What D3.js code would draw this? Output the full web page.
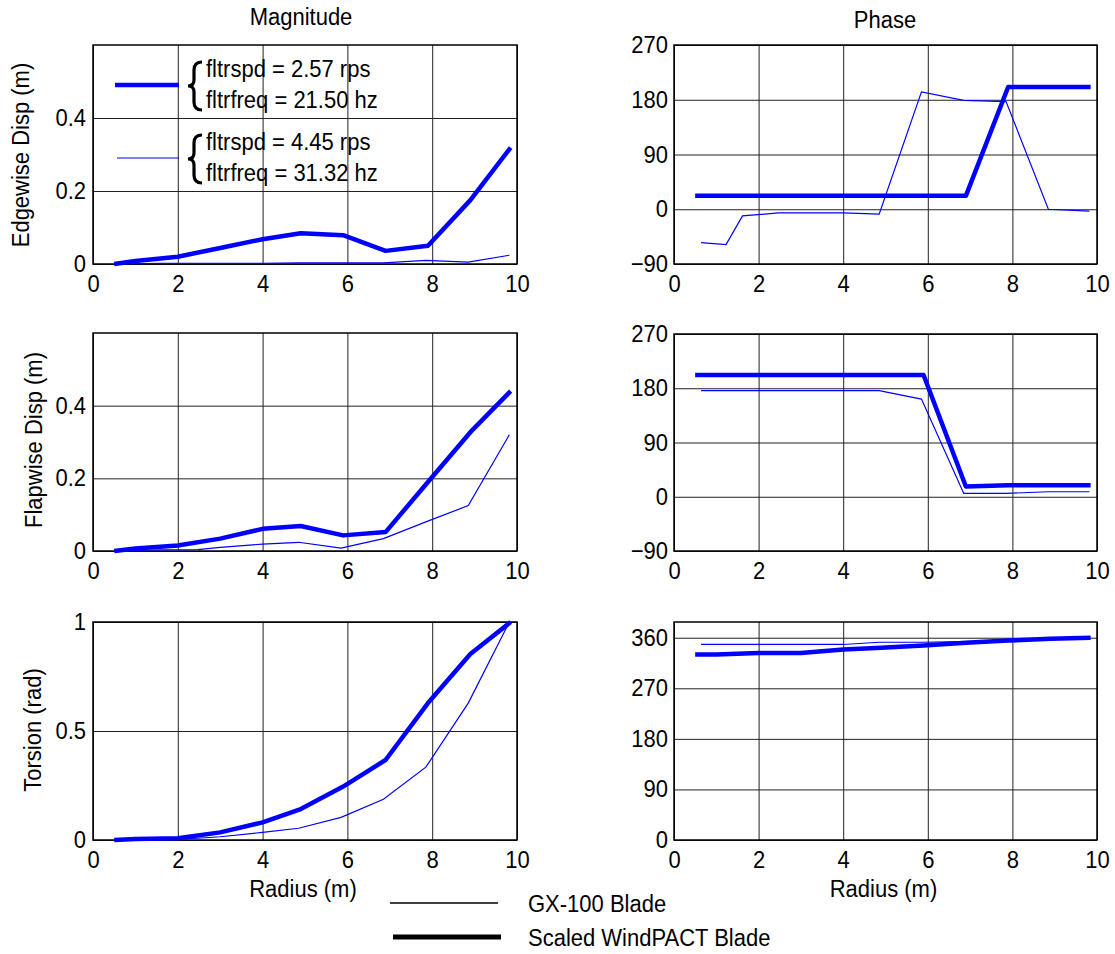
<!DOCTYPE html>
<html>
<head>
<meta charset="utf-8">
<script src="https://cdn.jsdelivr.net/npm/d3@7"></script>
<style>
  body { margin: 0; background: #fff; }
  svg { font-family: "Liberation Sans", Arial, sans-serif; }
  .tick line { stroke: #222; stroke-width: 1; }
  .domain { display: none; }
  .tick text { font-size: 22px; fill: #000; }
</style>
</head>
<body>
<script>
var width = 1115;
var height = 954;
var stretch = 1.09; // text in the original is a bit taller than it is wide

// radial stations (m)
var thickR = [0.5, 1.0, 2.0, 3.0, 4.0, 4.9, 5.9, 6.9, 7.9, 8.9, 9.85];
var thinR  = [0.64, 1.23, 1.62, 2.47, 3.0, 4.0, 4.85, 5.85, 6.85, 7.85, 8.85, 9.82];

// scaled WindPACT blade (thick) and GX-100 blade (thin)
var edgeMagThick   = [0, 0.008, 0.02, 0.044, 0.068, 0.084, 0.079, 0.036, 0.05, 0.175, 0.319];
var edgeMagThin    = [0.001, 0.001, 0.002, 0.002, 0.002, 0.002, 0.003, 0.003, 0.003, 0.01, 0.005, 0.024];
var edgePhaseThick = [22, 22, 22, 22, 22, 22, 22, 22, 201, 201, 201];
var edgePhaseThin  = [-55, -58, -11, -6, -6, -6, -8, 193, 179, 177, 0, -3];

var flapMagThick   = [0, 0.007, 0.015, 0.034, 0.061, 0.069, 0.043, 0.052, 0.19, 0.327, 0.44];
var flapMagThin    = [0, 0.002, 0.003, 0.004, 0.01, 0.019, 0.024, 0.008, 0.034, 0.08, 0.125, 0.32];
var flapPhaseThick = [202, 202, 202, 202, 202, 202, 202, 17, 19, 19, 19];
var flapPhaseThin  = [176, 176, 176, 176, 176, 176, 176, 162, 5.6, 5.6, 8.3, 8.3];

var torMagThick    = [0, 0.005, 0.008, 0.035, 0.081, 0.142, 0.245, 0.367, 0.628, 0.853, 1.0];
var torMagThin     = [0, 0.002, 0.003, 0.008, 0.015, 0.035, 0.054, 0.104, 0.187, 0.334, 0.628, 1.0];
var torPhaseThick  = [330, 330, 333, 333, 339, 342, 346, 351, 355, 358, 360];
var torPhaseThin   = [348, 348, 348, 348, 348, 348, 352, 352, 353, 355, 357, 360];

// tick labels
var xTicks = [0, 2, 4, 6, 8, 10];
var dispTicks = [0, 0.2, 0.4];
var torTicks = [0, 0.5, 1];
var phaseTicks = [-90, 0, 90, 180, 270];
var torPhaseTicks = [0, 90, 180, 270, 360];

// legend texts
var legendTexts = [["fltrspd = 2.57 rps", "fltrfreq = 21.50 hz"],
                   ["fltrspd = 4.45 rps", "fltrfreq = 31.32 hz"]];
var bladeNames = ["GX-100 Blade", "Scaled WindPACT Blade"];

var panels = [
  {x0: 93, x1: 517, y0: 45, y1: 264, dom: [0, 0.6], ticks: dispTicks, thick: edgeMagThick, thin: edgeMagThin,
   ylabel: "Edgewise Disp (m)", lx: 29, ly: 155, pad: 7},
  {x0: 674, x1: 1097, y0: 45, y1: 264, dom: [-90, 270], ticks: phaseTicks, thick: edgePhaseThick, thin: edgePhaseThin, pad: 6},
  {x0: 93, x1: 517, y0: 333, y1: 551, dom: [0, 0.6], ticks: dispTicks, thick: flapMagThick, thin: flapMagThin,
   ylabel: "Flapwise Disp (m)", lx: 42, ly: 440, pad: 7},
  {x0: 674, x1: 1097, y0: 334, y1: 551, dom: [-90, 270], ticks: phaseTicks, thick: flapPhaseThick, thin: flapPhaseThin, pad: 6},
  {x0: 93, x1: 517, y0: 622, y1: 840, dom: [0, 1], ticks: torTicks, thick: torMagThick, thin: torMagThin,
   ylabel: "Torsion (rad)", lx: 41, ly: 730, pad: 7, xlabel: true},
  {x0: 674, x1: 1097, y0: 622, y1: 840, dom: [0, 388], ticks: torPhaseTicks, thick: torPhaseThick, thin: torPhaseThin, pad: 6, xlabel: true}
];

var svg = d3.select("body").append("svg")
    .attr("width", width)
    .attr("height", height);

// plain text placed at (x, y) with the vertical stretch
function label(x, y, str, anchor, rot) {
  return svg.append("text")
      .attr("transform", "translate(" + x + "," + y + ")" + (rot ? " rotate(" + rot + ")" : "") + " scale(1," + stretch + ")")
      .attr("text-anchor", anchor || "start")
      .style("font-size", "22px")
      .text(str);
}

panels.forEach(function(p) {
  var x = d3.scaleLinear().domain([0, 10]).range([p.x0, p.x1]);
  var y = d3.scaleLinear().domain(p.dom).range([p.y1, p.y0]);
  var w = p.x1 - p.x0, h = p.y1 - p.y0;

  // grid
  svg.append("g")
      .attr("transform", "translate(0," + p.y1 + ")")
      .call(d3.axisBottom(x).tickValues(xTicks).tickSize(-h).tickFormat(""));
  svg.append("g")
      .attr("transform", "translate(" + p.x0 + ",0)")
      .call(d3.axisLeft(y).tickValues(p.ticks).tickSize(-w).tickFormat(""));

  // tick labels
  svg.append("g")
      .attr("transform", "translate(0," + p.y1 + ")")
      .call(d3.axisBottom(x).tickValues(xTicks).tickSize(0).tickPadding(10.5).tickFormat(d3.format("")))
    .selectAll("text")
      .attr("transform", "scale(1," + stretch + ")");
  svg.append("g")
      .attr("transform", "translate(" + p.x0 + ",0)")
      .call(d3.axisLeft(y).tickValues(p.ticks).tickSize(0).tickPadding(p.pad).tickFormat(d3.format("")))
    .selectAll(".tick text")
      .attr("y", null)
      .attr("dy", null)
      .attr("transform", "translate(0,7.5) scale(1," + stretch + ")");

  svg.append("rect")
      .attr("x", p.x0).attr("y", p.y0)
      .attr("width", w).attr("height", h)
      .attr("fill", "none").attr("stroke", "#000").attr("stroke-width", 1.5);

  var line = d3.line()
      .x(function(d) { return x(d[0]); })
      .y(function(d) { return y(d[1]); });

  svg.append("path")
      .datum(d3.zip(thinR, p.thin))
      .attr("d", line)
      .attr("fill", "none").attr("stroke", "#0000ff").attr("stroke-width", 1.2);
  svg.append("path")
      .datum(d3.zip(thickR, p.thick))
      .attr("d", line)
      .attr("fill", "none").attr("stroke", "#0000ff").attr("stroke-width", 4.5)
      .attr("stroke-linejoin", "round");

  if (p.ylabel) label(p.lx, p.ly, p.ylabel, "middle", -90);
  if (p.xlabel) label((p.x0 + p.x1) / 2 - 2, 897, "Radius (m)", "middle");
});

// column titles
label(301, 25, "Magnitude", "middle");
label(885, 28, "Phase", "middle");

// legend inside edgewise magnitude panel
var legY = [85, 158];
var legW = [4.5, 1.2];
legendTexts.forEach(function(t, i) {
  var top = i == 0 ? 62 : 135;
  svg.append("line")
      .attr("x1", i == 0 ? 115 : 117).attr("x2", 179)
      .attr("y1", legY[i]).attr("y2", legY[i])
      .attr("stroke", "#0000ff").attr("stroke-width", legW[i]);
  var m = top + 24, b = top + 48;
  svg.append("path")
      .attr("d", "M202," + top + " C196," + top + " 194," + (top + 3) + " 194," + (top + 8) +
                 " L194," + (m - 6) + " C194," + (m - 2) + " 192," + m + " 188," + m +
                 " C192," + m + " 194," + (m + 2) + " 194," + (m + 6) +
                 " L194," + (b - 8) + " C194," + (b - 3) + " 196," + b + " 202," + b)
      .attr("fill", "none").attr("stroke", "#000").attr("stroke-width", 3.2);
  label(206, top + 15, t[0]);
  label(206, top + 46, t[1]);
});

// blade legend at the bottom
var bladeY = [903, 937];
var bladeW = [1.3, 5];
bladeNames.forEach(function(n, i) {
  svg.append("line")
      .attr("x1", i == 0 ? 390 : 393).attr("x2", i == 0 ? 498 : 501)
      .attr("y1", bladeY[i]).attr("y2", bladeY[i])
      .attr("stroke", "#000").attr("stroke-width", bladeW[i]);
  label(528, bladeY[i] + 9, n);
});
</script>
</body>
</html>
